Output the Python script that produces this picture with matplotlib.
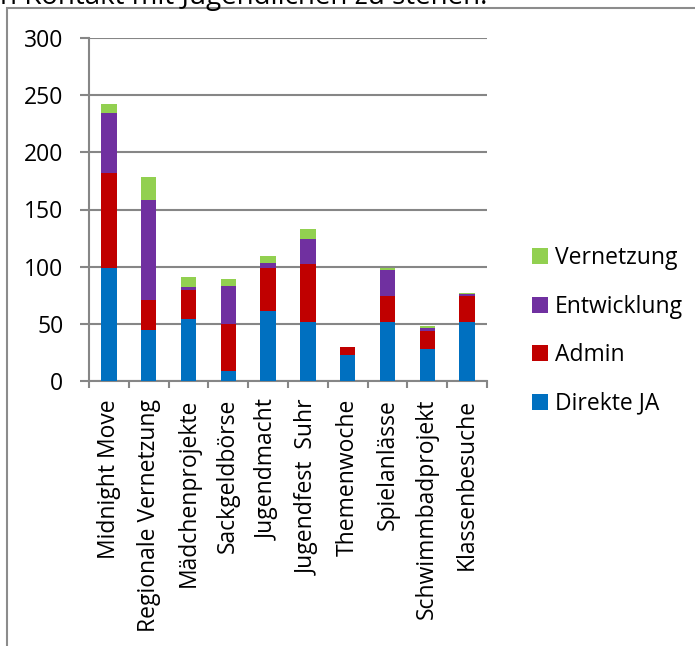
import matplotlib.pyplot as plt
import numpy as np
from matplotlib.patches import Rectangle

plt.rcParams['font.family'] = ['Open Sans', 'DejaVu Sans']

# data
categories = ["Midnight Move", "Regionale Vernetzung", "Mädchenprojekte", "Sackgeldbörse",
              "Jugendmacht", "Jugendfest  Suhr", "Themenwoche", "Spielanlässe",
              "Schwimmbadprojekt", "Klassenbesuche"]
direkte_ja = [99, 45, 54, 9, 61, 52, 23, 52, 28, 52]
admin = [83, 26, 26, 41, 38, 50, 7, 22, 16, 22]
entwicklung = [52, 87, 2, 33, 4, 22, 0, 23, 2, 2]
vernetzung = [8, 20, 9, 6, 6, 9, 0, 2, 2, 1]
yticks = [0, 50, 100, 150, 200, 250, 300]

W, H = 695, 646
fig = plt.figure(figsize=(W / 100, H / 100), dpi=100)
ax = fig.add_axes([89 / W, 1 - 381 / H, (487 - 89) / W, (381 - 38) / H])

x = np.arange(len(categories))
bw = 0.39
series = [("Direkte JA", direkte_ja, "#0070C0"),
          ("Admin", admin, "#C00000"),
          ("Entwicklung", entwicklung, "#7030A0"),
          ("Vernetzung", vernetzung, "#92D050")]
bottom = np.zeros(len(categories))
handles = []
for name, vals, col in series:
    b = ax.bar(x, vals, bw, bottom=bottom, color=col, label=name, zorder=3)
    handles.append(b)
    bottom += np.array(vals)

ax.set_xlim(-0.5, len(categories) - 0.5)
ax.set_ylim(0, 300)
ax.set_yticks(yticks)
ax.set_yticklabels([str(v) for v in yticks], fontsize=16.5)
ax.yaxis.grid(True, color="#868686", linewidth=1.5, zorder=0)

# ticks between categories, labels at centres
ax.set_xticks(np.arange(-0.5, len(categories), 1.0))
ax.set_xticklabels([])
ax.set_xticks(x, minor=True)
ax.set_xticklabels(categories, minor=True, rotation=90, fontsize=16.5, va="top", ha="center")
ax.tick_params(axis="x", which="minor", length=0, pad=13)
ax.tick_params(axis="x", which="major", length=5, width=1.5, color="#868686", direction="out")
ax.tick_params(axis="y", length=6.5, width=1.5, color="#868686", pad=12)

for s in ["top", "right"]:
    ax.spines[s].set_visible(False)
for s in ["left", "bottom"]:
    ax.spines[s].set_color("#868686")
    ax.spines[s].set_linewidth(1.5)

leg = fig.legend(handles[::-1], [h.get_label() for h in handles[::-1]],
                 loc="center left", bbox_to_anchor=(511 / W, 1 - 331 / H),
                 frameon=False, fontsize=16.5, handlelength=0.7, handleheight=0.7,
                 handletextpad=0.3, labelspacing=1.07)

# outer frame of the embedded chart
fig.patches.append(Rectangle((7 / W, -0.1), 1.2, 1 - 8 / H + 0.1, transform=fig.transFigure,
                             fill=False, edgecolor="#8c8c8c", linewidth=1.5))

# cut-off line of text above the chart
fig.text(-7 / W, 1 - 4 / H, "in Kontakt mit Jugendlichen zu stehen.", fontsize=20,
         ha="left", va="baseline")

fig.savefig("out.png", dpi=100)
